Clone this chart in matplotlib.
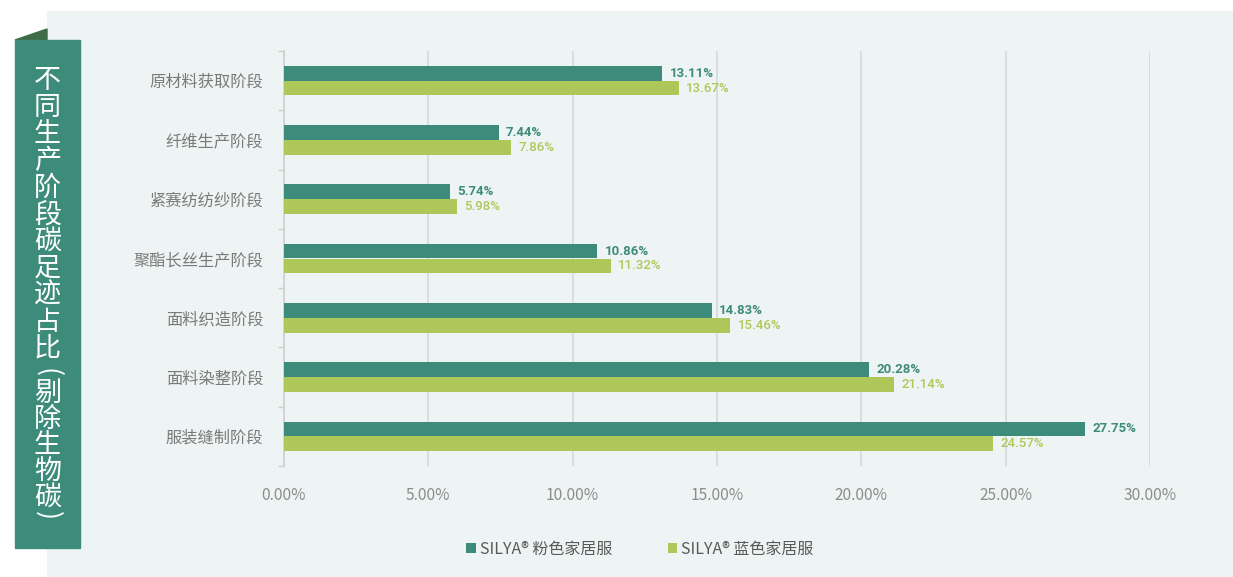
import matplotlib
matplotlib.use("Agg")
import matplotlib.pyplot as plt
from matplotlib.patches import Rectangle, Polygon

plt.rcParams["font.family"] = ["Noto Sans CJK SC", "DejaVu Sans"]

# 数据（自上而下）
stages = ["原材料获取阶段", "纤维生产阶段", "紧赛纺纺纱阶段", "聚酯长丝生产阶段",
          "面料织造阶段", "面料染整阶段", "服装缝制阶段"]
pink_vals = [13.11, 7.44, 5.74, 10.86, 14.83, 20.28, 27.75]
blue_vals = [13.67, 7.86, 5.98, 11.32, 15.46, 21.14, 24.57]
series_names = ["SILYA® 粉色家居服", "SILYA® 蓝色家居服"]
x_ticks = [0, 5, 10, 15, 20, 25, 30]
title_main = "不同生产阶段碳足迹占比"
title_note = "剔除生物碳"

DARK = "#3d8b7b"
LIGHT = "#adc859"
W, H = 1233, 577

fig = plt.figure(figsize=(W / 100, H / 100), dpi=100, facecolor="white")

# 背景面板
fig.patches.append(Rectangle((47 / W, 0), 1 - 47 / W, 1 - 11 / H,
                             transform=fig.transFigure, color="#eef4f3", zorder=-2))
# 左侧竖向标题条 + 折角
fig.patches.append(Polygon([(15 / W, 1 - 40 / H), (47 / W, 1 - 29 / H), (47 / W, 1 - 40 / H)],
                           closed=True, transform=fig.transFigure, color="#3f6b47", zorder=-1))
fig.patches.append(Rectangle((15 / W, 1 - 548 / H), 65 / W, 508 / H,
                             transform=fig.transFigure, color=DARK, zorder=-1))

# 竖排标题：逐字排布，括号旋转
kw = dict(color="white", fontsize=19.5, ha="center", va="center", zorder=2)
xc = 47.5 / W
y = 81
for ch in title_main:
    fig.text(xc, 1 - y / H, ch, **kw)
    y += 26.8
y = 373
fig.text(xc, 1 - y / H, "(", rotation=-90, **kw)
y = 393
for ch in title_note:
    fig.text(xc, 1 - y / H, ch, **kw)
    y += 26.2
fig.text(xc, 1 - 516 / H, ")", rotation=-90, **kw)

ax = fig.add_axes([284 / W, 1 - 466 / H, (1150 - 284) / W, (466 - 51) / H], zorder=1)
ax.set_facecolor("none")

n = len(stages)
pos = list(range(n))
h = 0.25
ax.barh([p - h / 2 for p in pos], pink_vals, height=h, color=DARK, zorder=3,
        label=series_names[0])
ax.barh([p + h / 2 for p in pos], blue_vals, height=h, color=LIGHT, zorder=3,
        label=series_names[1])

for p, v in zip(pos, pink_vals):
    ax.text(v + 0.25, p - h / 2, f"{v:.2f}%", va="center", ha="left", fontsize=9.5,
            color=DARK, fontweight="bold", family=["Roboto", "DejaVu Sans"])
for p, v in zip(pos, blue_vals):
    ax.text(v + 0.25, p + h / 2, f"{v:.2f}%", va="center", ha="left", fontsize=9.5,
            color=LIGHT, fontweight="medium", family=["Roboto", "DejaVu Sans"])

ax.set_xlim(0, 30)
ax.set_ylim(n - 0.5, -0.5)
ax.set_xticks(x_ticks)
ax.set_xticklabels([f"{t:.2f}%" for t in x_ticks], color="#8c8c8c", fontsize=11.2)
ax.set_yticks(pos)
ax.set_yticklabels(stages, color="#7a7a7a", fontsize=11.7)
ax.set_yticks([p + 0.5 for p in range(-1, n)], minor=True)
ax.tick_params(axis="both", which="major", length=0)
ax.tick_params(axis="x", pad=15)
ax.tick_params(axis="y", pad=15)
ax.tick_params(axis="y", which="minor", length=4, color="#cfcfcf", width=1)

ax.grid(axis="x", color="#d6d9d9", linewidth=1.2, zorder=0)
for side in ("top", "right", "bottom"):
    ax.spines[side].set_visible(False)
ax.spines["left"].set_color("#cfcfcf")
ax.spines["left"].set_linewidth(1.2)

leg = fig.legend(loc="center", bbox_to_anchor=(640 / W, 1 - 549 / H), ncol=2,
                 frameon=False, handlelength=0.6, handleheight=0.6,
                 handletextpad=0.25, columnspacing=3.45, fontsize=11.5)
for t in leg.get_texts():
    t.set_color("#595959")

fig.savefig("out.png", dpi=100, facecolor="white")
